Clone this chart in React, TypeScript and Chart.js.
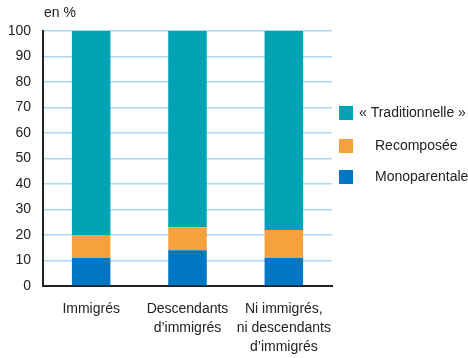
import React, { useEffect, useRef } from "react";
import { Chart, registerables } from "chart.js";

Chart.register(...registerables);

const categories: string[][] = [
  ["Immigrés"],
  ["Descendants", "d’immigrés"],
  ["Ni immigrés,", "ni descendants", "d’immigrés"],
];
const monoparentale = [11, 14, 11];
const recomposee = [9, 9, 11];
const traditionnelle = [80, 77, 78];
const yTicks = [0, 10, 20, 30, 40, 50, 60, 70, 80, 90, 100];
const seriesLabels = ["Monoparentale", "Recomposée", "« Traditionnelle »"];
const unitLabel = "en %";

const FONT = "'Liberation Sans', Arial, sans-serif";
const COLORS = ["#0077c2", "#f7a13d", "#00a3b1"];

const overlay = {
  id: "overlay",
  afterDraw(chart: any) {
    const { ctx, chartArea } = chart;
    ctx.save();
    ctx.fillStyle = "#222";
    ctx.font = `14px ${FONT}`;
    ctx.textBaseline = "middle";
    ctx.textAlign = "left";
    ctx.fillText(unitLabel, chartArea.left + 1, 13);
    const rows = [
      { i: 2, y: 113, tx: 359 },
      { i: 1, y: 146, tx: 375 },
      { i: 0, y: 177, tx: 375 },
    ];
    rows.forEach((r) => {
      ctx.fillStyle = COLORS[r.i];
      ctx.fillRect(339, r.y - 7, 14, 14);
      ctx.fillStyle = "#222";
      ctx.fillText(seriesLabels[r.i], r.tx, r.y);
    });
    ctx.restore();
  },
};

export default function App() {
  const ref = useRef<HTMLCanvasElement>(null);
  useEffect(() => {
    const chart = new Chart(ref.current!, {
      type: "bar",
      data: {
        labels: categories as any,
        datasets: [
          { label: seriesLabels[0], data: monoparentale, backgroundColor: COLORS[0] },
          { label: seriesLabels[1], data: recomposee, backgroundColor: COLORS[1] },
          { label: seriesLabels[2], data: traditionnelle, backgroundColor: COLORS[2] },
        ],
      },
      options: {
        animation: false,
        responsive: false,
        maintainAspectRatio: false,
        layout: { padding: { top: 31, right: 136, left: 0, bottom: 0 } },
        datasets: { bar: { categoryPercentage: 1, barPercentage: 0.4 } } as any,
        plugins: { legend: { display: false }, tooltip: { enabled: false }, title: { display: false } },
        scales: {
          x: {
            stacked: true,
            grid: { display: false, drawTicks: false },
            border: { display: true, color: "#222", width: 2 },
            ticks: {
              color: "#222",
              font: { family: FONT, size: 14, lineHeight: 1.35 },
              padding: 14,
              maxRotation: 0,
              autoSkip: false,
            },
            afterFit: (axis: any) => {
              axis.height = 72;
            },
          },
          y: {
            stacked: true,
            min: 0,
            max: 100,
            afterBuildTicks: (axis: any) => {
              axis.ticks = yTicks.map((v) => ({ value: v }));
            },
            grid: { color: "#a9d8f2", lineWidth: 1.5, drawTicks: false },
            border: { display: true, color: "#222", width: 2 },
            ticks: { color: "#222", font: { family: FONT, size: 14 }, padding: 12 },
            afterFit: (axis: any) => {
              axis.width = 43;
            },
          },
        },
      },
      plugins: [overlay],
    });
    return () => chart.destroy();
  }, []);
  return (
    <div style={{ position: "absolute", left: 0, top: 0, width: 468, height: 358, background: "#fff" }}>
      <canvas ref={ref} width={468} height={358} style={{ width: 468, height: 358 }} />
    </div>
  );
}
